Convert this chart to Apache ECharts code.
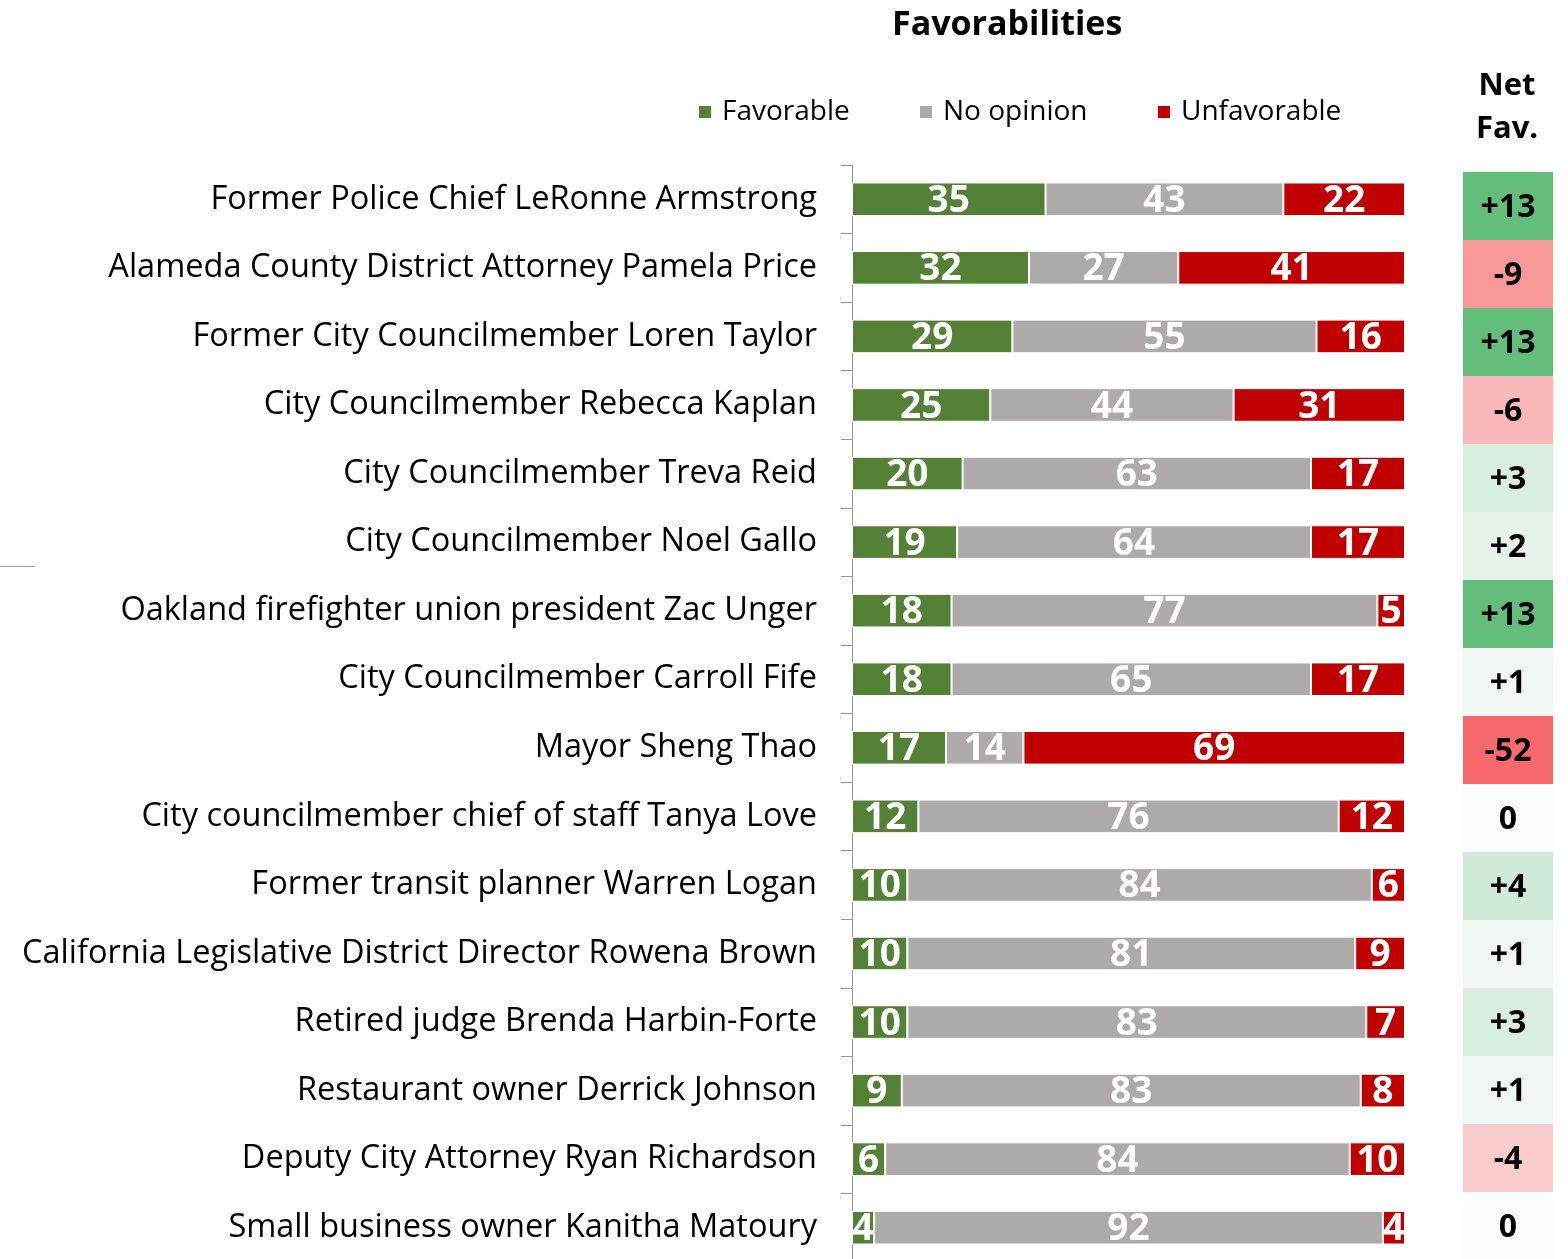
<!DOCTYPE html>
<html>
<head>
<meta charset="utf-8">
<script src="https://cdn.jsdelivr.net/npm/echarts@6/dist/echarts.min.js"></script>
<style>
  html, body { margin: 0; padding: 0; background: #fff; }
  #main { width: 1568px; height: 1259px; }
</style>
</head>
<body>
<div id="main"></div>
<script>
// rows, top to bottom
const names = [
  "Former Police Chief LeRonne Armstrong",
  "Alameda County District Attorney Pamela Price",
  "Former City Councilmember Loren Taylor",
  "City Councilmember Rebecca Kaplan",
  "City Councilmember Treva Reid",
  "City Councilmember Noel Gallo",
  "Oakland firefighter union president Zac Unger",
  "City Councilmember Carroll Fife",
  "Mayor Sheng Thao",
  "City councilmember chief of staff Tanya Love",
  "Former transit planner Warren Logan",
  "California Legislative District Director Rowena Brown",
  "Retired judge Brenda Harbin-Forte",
  "Restaurant owner Derrick Johnson",
  "Deputy City Attorney Ryan Richardson",
  "Small business owner Kanitha Matoury"
];
const favorable   = [35, 32, 29, 25, 20, 19, 18, 18, 17, 12, 10, 10, 10, 9, 6, 4];
const noOpinion   = [43, 27, 55, 44, 63, 64, 77, 65, 14, 76, 84, 81, 83, 83, 84, 92];
const unfavorable = [22, 41, 16, 31, 17, 17, 5, 17, 69, 12, 6, 9, 7, 8, 10, 4];
const netFav      = [13, -9, 13, -6, 3, 2, 13, 1, -52, 0, 4, 1, 3, 1, -4, 0];

// colour scale for the net column (Excel-style red / white / green)
const scaleStops = [
  [-52, "#F8696B"], [-9, "#F8989A"], [-6, "#F9B8B9"], [-4, "#F9CBCD"],
  [0, "#FCFCFF"], [1, "#F1F8F4"], [2, "#E5F3E9"], [3, "#D9EEE0"],
  [4, "#CFEAD8"], [13, "#63BE7B"]
];
function hex(c) { return [1, 3, 5].map(i => parseInt(c.substr(i, 2), 16)); }
function netColor(v) {
  for (let i = 0; i < scaleStops.length - 1; i++) {
    const [a, ca] = scaleStops[i], [b, cb] = scaleStops[i + 1];
    if (v >= a && v <= b) {
      const t = b === a ? 0 : (v - a) / (b - a);
      const x = hex(ca), y = hex(cb);
      return "rgb(" + x.map((k, j) => Math.round(k + (y[j] - k) * t)).join(",") + ")";
    }
  }
  return "#FCFCFF";
}

const FONT = "Open Sans";
const myChart = echarts.init(document.getElementById("main"));

const barLabel = {
  show: true,
  position: "inside",
  color: "#fff",
  fontFamily: FONT,
  fontWeight: "bold",
  fontSize: 37,
  offset: [0, 2]
};
const segStyle = { borderColor: "#fff", borderWidth: 1 };

const option = {
  animation: false,
  backgroundColor: "#fff",
  textStyle: { fontFamily: FONT },
  title: {
    text: "Favorabilities",
    left: 887,
    top: 3,
    textStyle: { fontFamily: FONT, fontSize: 34, fontWeight: "bold", color: "#000" }
  },
  legend: [
    { left: 692, top: 93, data: ["Favorable"] },
    { left: 913, top: 93, data: ["No opinion"] },
    { left: 1151, top: 93, data: ["Unfavorable"] }
  ].map(l => Object.assign(l, {
    icon: "rect",
    itemWidth: 14,
    itemHeight: 14,
    itemGap: 10,
    selectedMode: false,
    textStyle: { fontFamily: FONT, fontSize: 28, color: "#000", padding: [0, 0, 0, 5] }
  })),
  graphic: [
    {
      type: "text", x: 1507, y: 86,
      style: { text: "Net", fontFamily: FONT, fontSize: 31, fontWeight: "bold", fill: "#000", align: "center", verticalAlign: "middle" }
    },
    {
      type: "text", x: 1507, y: 129,
      style: { text: "Fav.", fontFamily: FONT, fontSize: 31, fontWeight: "bold", fill: "#000", align: "center", verticalAlign: "middle" }
    },
    {
      type: "line",
      shape: { x1: 0, y1: 566.5, x2: 35, y2: 566.5 },
      style: { stroke: "#7FB0E0", lineWidth: 1 }
    }
  ],
  grid: [
    { left: 852, width: 553, top: 165, height: 1097, containLabel: false, outerBoundsMode: "none" },
    { left: 1463, width: 90, top: 172, height: 1088, containLabel: false, outerBoundsMode: "none" }
  ],
  xAxis: [
    { type: "value", gridIndex: 0, min: 0, max: 100, show: false },
    { type: "value", gridIndex: 1, min: 0, max: 1, show: false }
  ],
  yAxis: [
    {
      type: "category",
      gridIndex: 0,
      inverse: true,
      data: names,
      axisLine: { show: true, lineStyle: { color: "#9a9a9a", width: 1 } },
      axisTick: { show: true, length: 11, lineStyle: { color: "#9a9a9a" } },
      axisLabel: { color: "#000", fontFamily: FONT, fontSize: 32.5, margin: 35, padding: [5, 0, 0, 0] },
      splitLine: { show: false }
    },
    {
      type: "category",
      gridIndex: 1,
      inverse: true,
      data: names,
      show: false
    }
  ],
  series: [
    {
      name: "Favorable", type: "bar", stack: "fav", barWidth: "49%",
      xAxisIndex: 0, yAxisIndex: 0,
      itemStyle: Object.assign({ color: "#538135" }, segStyle),
      label: barLabel,
      data: favorable
    },
    {
      name: "No opinion", type: "bar", stack: "fav", barWidth: "49%",
      xAxisIndex: 0, yAxisIndex: 0,
      itemStyle: Object.assign({ color: "#AEAAAA" }, segStyle),
      label: barLabel,
      data: noOpinion
    },
    {
      name: "Unfavorable", type: "bar", stack: "fav", barWidth: "49%",
      xAxisIndex: 0, yAxisIndex: 0,
      itemStyle: Object.assign({ color: "#C00000" }, segStyle),
      label: barLabel,
      data: unfavorable
    },
    {
      name: "Net Fav.", type: "bar", barWidth: "100%", barCategoryGap: "0%",
      xAxisIndex: 1, yAxisIndex: 1,
      silent: true,
      label: {
        show: true,
        position: "inside",
        color: "#000",
        fontFamily: FONT,
        fontWeight: "bold",
        fontSize: 32,
        offset: [0, 2],
        formatter: p => {
          const v = netFav[p.dataIndex];
          return v > 0 ? "+" + v : String(v);
        }
      },
      data: netFav.map(v => ({ value: 1, itemStyle: { color: netColor(v) } }))
    }
  ]
};
myChart.setOption(option);
</script>
</body>
</html>
